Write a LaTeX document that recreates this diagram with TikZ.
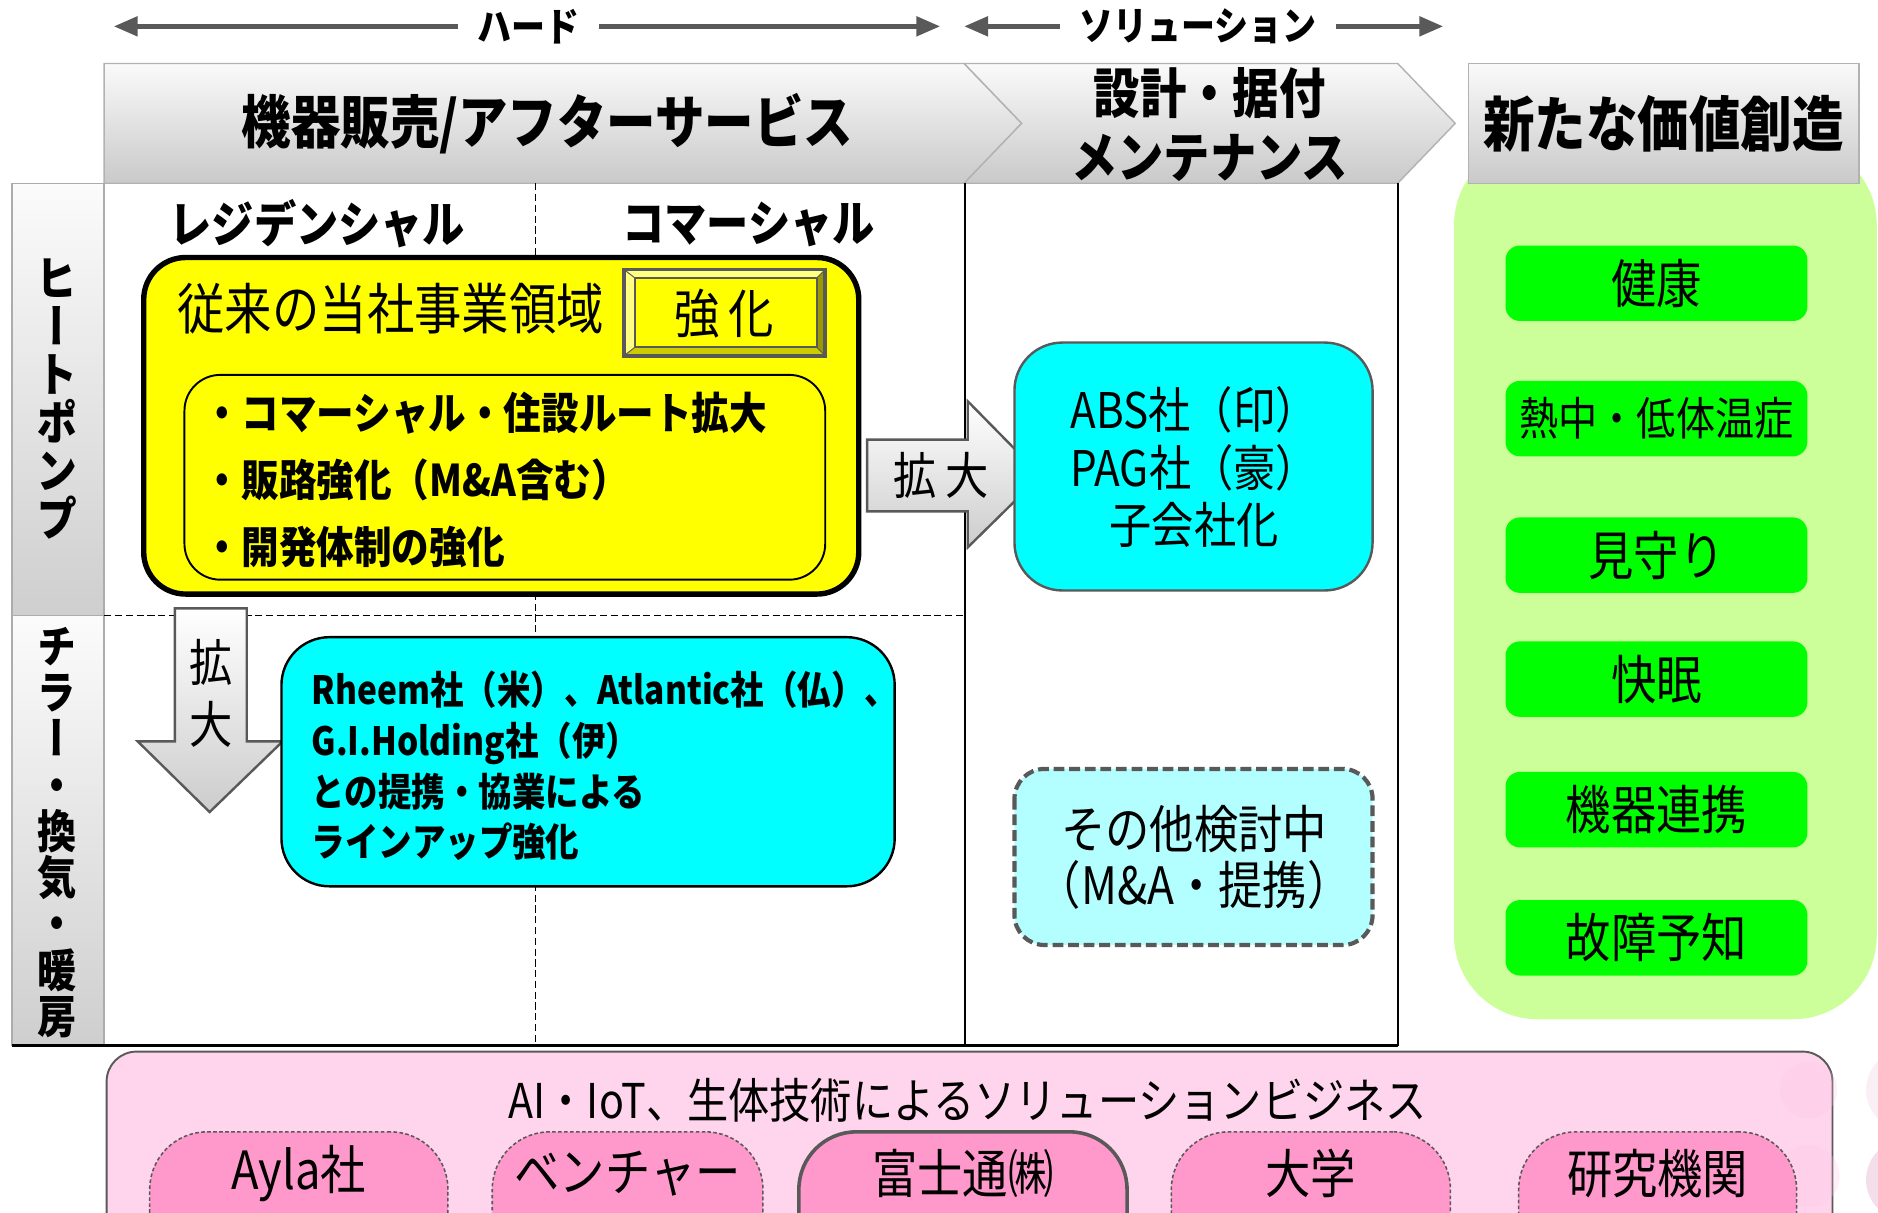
\documentclass[tikz,border=0pt]{standalone}
\usepackage{fontspec}
\setmainfont{Noto Sans CJK JP}[FakeStretch=0.86]
\newfontfamily\vjp{Noto Sans CJK JP}[FakeStretch=0.86,RawFeature=+vert]
\usetikzlibrary{arrows.meta,positioning}
\definecolor{dgray}{HTML}{595959}
\definecolor{lgreen}{HTML}{CCFF99}
\definecolor{vgreen}{HTML}{00FF00}
\definecolor{lpink}{HTML}{FFD5EE}
\definecolor{mpink}{HTML}{FF99CC}
\definecolor{aqua}{HTML}{00FFFF}
\definecolor{lcyan}{HTML}{B3FFFF}
\definecolor{pyellow}{HTML}{FFFF00}
\definecolor{bevlight}{HTML}{FFFF80}
\definecolor{bevmid}{HTML}{CCCC00}
\definecolor{bevdark}{HTML}{999900}
\newcommand\jsz[2]{\fontsize{#1}{#2}\selectfont}
\tikzset{
  hdrbox/.style={draw=gray!60,line width=1.2pt,top color=gray!4,bottom color=gray!42},
  sidecell/.style={draw=gray!65,line width=1.2pt,top color=gray!3,bottom color=gray!38},
  toparrow/.style={draw=dgray,line width=4pt,-{Triangle[length=20pt,width=16pt]}},
  blockarrow/.style={draw=dgray,line width=2pt,top color=white,bottom color=gray!40},
  greenitem/.style={fill=vgreen,rounded corners=12pt,minimum width=252pt,minimum height=63pt,inner sep=0pt},
  partner/.style={fill=mpink,draw=dgray,line width=1.3pt,dash pattern=on 3pt off 2pt,rounded corners=48pt,minimum height=120pt,inner sep=0pt},
  plain/.style={inner sep=0pt}
}
\begin{document}
\begin{tikzpicture}[x=1pt,y=-1pt]
\useasboundingbox (0,0) rectangle (1568,1012);
\pgfmathsetmacro{\tl}{153}
\pgfmathsetmacro{\tm}{514}
\pgfmathsetmacro{\tb}{873}
% top arrows
\node[plain,inner xsep=16pt,font=\bfseries\jsz{33}{33}] (hard) at (441,22) {ハード};
\coordinate (hardL) at (95,22);
\coordinate (hardR) at (785,22);
\draw[toparrow] (hard.west) -- (hardL);
\draw[toparrow] (hard.east) -- (hardR);
\node[plain,inner xsep=16pt,font=\bfseries\jsz{33}{33}] (sol) at (1000,22) {ソリューション};
\coordinate (solL) at (805,22);
\coordinate (solR) at (1205,22);
\draw[toparrow] (sol.west) -- (solL);
\draw[toparrow] (sol.east) -- (solR);
% green panel
\fill[lgreen,rounded corners=70pt] (1214,118) rectangle (1567,851);
% header row
\draw[hdrbox] (87,53) -- (805,53) -- (853,103) -- (805,\tl) -- (87,\tl) -- cycle;
\draw[hdrbox] (805,53) -- (1167,53) -- (1215,103) -- (1167,\tl) -- (805,\tl) -- (853,103) -- cycle;
\draw[hdrbox] (1226,53) rectangle (1552,\tl);
\node[plain,font=\bfseries\jsz{48}{48}] (sales) at (457,103) {機器販売/アフターサービス};
\node[plain,align=center,font=\bfseries\jsz{45}{53}] (maint) at (1010,104) {設計・据付\\メンテナンス};
\node[plain,font=\bfseries\jsz{50}{50}] (newval) at (1389,103) {新たな価値創造};
% side cells
\draw[sidecell] (10,\tl) rectangle (87,\tm);
\draw[sidecell] (10,\tm) rectangle (87,\tb);
\node[plain,align=center,font=\vjp\bfseries\jsz{40}{40}] (hp) at (48,333) {ヒ\\ー\\ト\\ポ\\ン\\プ};
\node[plain,align=center,font=\vjp\bfseries\jsz{38}{38.6}] (chl) at (48,695) {チ\\ラ\\ー\\・\\換\\気\\・\\暖\\房};
% table lines
\draw[line width=1.2pt,dash pattern=on 6pt off 3pt] (447,\tl) -- (447,\tb);
\draw[line width=1.4pt,dash pattern=on 6pt off 3pt] (87,\tm) -- (806,\tm);
\draw[line width=1.5pt] (806,\tl) -- (806,\tb);
\draw[line width=1.8pt] (1167,\tl) -- (1167,\tb);
\draw[line width=2.5pt] (10,\tb) -- (1167,\tb);
\node[plain,font=\bfseries\jsz{41}{41}] (resid) at (265,187) {レジデンシャル};
\node[plain,font=\bfseries\jsz{41}{41}] (comm) at (625,187) {コマーシャル};
% core business
\draw[line width=4.5pt,fill=pyellow,rounded corners=35pt] (120,215) rectangle (717,496);
\node[plain,anchor=west,font=\jsz{46}{46}] (core) at (148,258) {従来の当社事業領域};
\fill[bevlight] (521,225) -- (689,225) -- (682,232) -- (530,232) -- cycle;
\fill[bevlight] (521,225) -- (530,232) -- (530,290) -- (521,297) -- cycle;
\fill[bevmid] (521,297) -- (530,290) -- (682,290) -- (689,297) -- cycle;
\fill[bevdark] (689,225) -- (682,232) -- (682,290) -- (689,297) -- cycle;
\draw[dgray,line width=0.8pt] (521,225) -- (530,232) (689,225) -- (682,232) (521,297) -- (530,290) (689,297) -- (682,290);
\draw[dgray,line width=1.5pt] (530,232) rectangle (682,290);
\draw[dgray,line width=3pt] (521,225) rectangle (689,297);
\node[plain,font=\jsz{44}{44}] (boost) at (605,262) {強\,化};
\draw[line width=1.6pt,rounded corners=30pt] (154,313) rectangle (689,484);
\node[plain,anchor=west,font=\bfseries\jsz{36.5}{36.5}] (b1) at (170,345) {・コマーシャル・住設ルート拡大};
\node[plain,anchor=west,font=\bfseries\jsz{36.5}{36.5}] (b2) at (170,401) {・販路強化（M\&A含む）};
\node[plain,anchor=west,font=\bfseries\jsz{36.5}{36.5}] (b3) at (170,457) {・開発体制の強化};
% expansion arrows
\draw[blockarrow] (724,367) -- (808,367) -- (808,335) -- (869,397) -- (808,457) -- (808,427) -- (724,427) -- cycle;
\node[plain,font=\jsz{42}{42}] (expR) at (786,397) {拡\,大};
\draw[blockarrow] (146,508) -- (206,508) -- (206,619) -- (236,619) -- (175,678) -- (115,619) -- (146,619) -- cycle;
\node[plain,align=center,font=\jsz{42}{52}] (expD) at (176,579) {拡\\大};
% partner boxes
\draw[line width=2pt,fill=aqua,rounded corners=40pt] (235,532) rectangle (747,740);
\node[plain,anchor=west,align=left,font=\bfseries\jsz{32.5}{42.3}] (coop) at (260,639.5) {Rheem社（米）、Atlantic社（仏）、\\G.I.Holding社（伊）\\との提携・協業による\\ラインアップ強化};
\draw[dgray,line width=2pt,fill=aqua,rounded corners=40pt] (847,286) rectangle (1146,493);
\node[plain,align=center,font=\jsz{41}{48}] (subs) at (997,390) {ABS社（印）\\PAG社（豪）\\子会社化};
\draw[dgray,line width=3.5pt,dash pattern=on 9pt off 4pt,fill=lcyan,rounded corners=25pt] (847,642) rectangle (1146,789);
\node[plain,align=center,font=\jsz{43}{47}] (other) at (997,716) {その他検討中\\（M\&A・提携）};
% new value items
\foreach \nm/\cy/\sz/\txt in {health/236.5/44/健康, heat/349.5/38/熱中・低体温症, watch/463.5/44/見守り, sleep/567/44/快眠, link/676/44/機器連携, fault/783/44/故障予知}{
  \node[greenitem,font=\jsz{\sz}{\sz}] (\nm) at (1383,\cy) {\txt};
}
% solution business
\draw[dgray,line width=1.6pt,fill=lpink,rounded corners=25pt] (89,878) rectangle (1530,1045);
\fill[mpink!60,opacity=0.25] (1510,910) circle (24pt) (1510,982) circle (26pt);
\fill[mpink!70!gray,opacity=0.15] (1592,910) circle (34pt);
\fill[mpink!70!gray,opacity=0.3] (1592,985) circle (34pt);
\node[plain,font=\jsz{40}{40}] (biz) at (808,919) {AI・IoT、生体技術によるソリューションビジネス};
\foreach \nm/\cx/\w/\txt in {ayla/249.5/249/Ayla社, venture/524/226/ベンチャー, univ/1094.5/233/大学, lab/1384/232/研究機関}{
  \node[partner,minimum width=\w pt] (\nm) at (\cx,1005) {};
  \node[plain,font=\jsz{44}{44}] (\nm t) at (\cx,980) {\txt};
}
\node[partner,solid,line width=3pt,minimum width=274pt] (fujitsu) at (804,1005) {};
\node[plain,font=\jsz{44}{44}] (fujitsut) at (804,980) {富士通㈱};
\end{tikzpicture}
\end{document}
